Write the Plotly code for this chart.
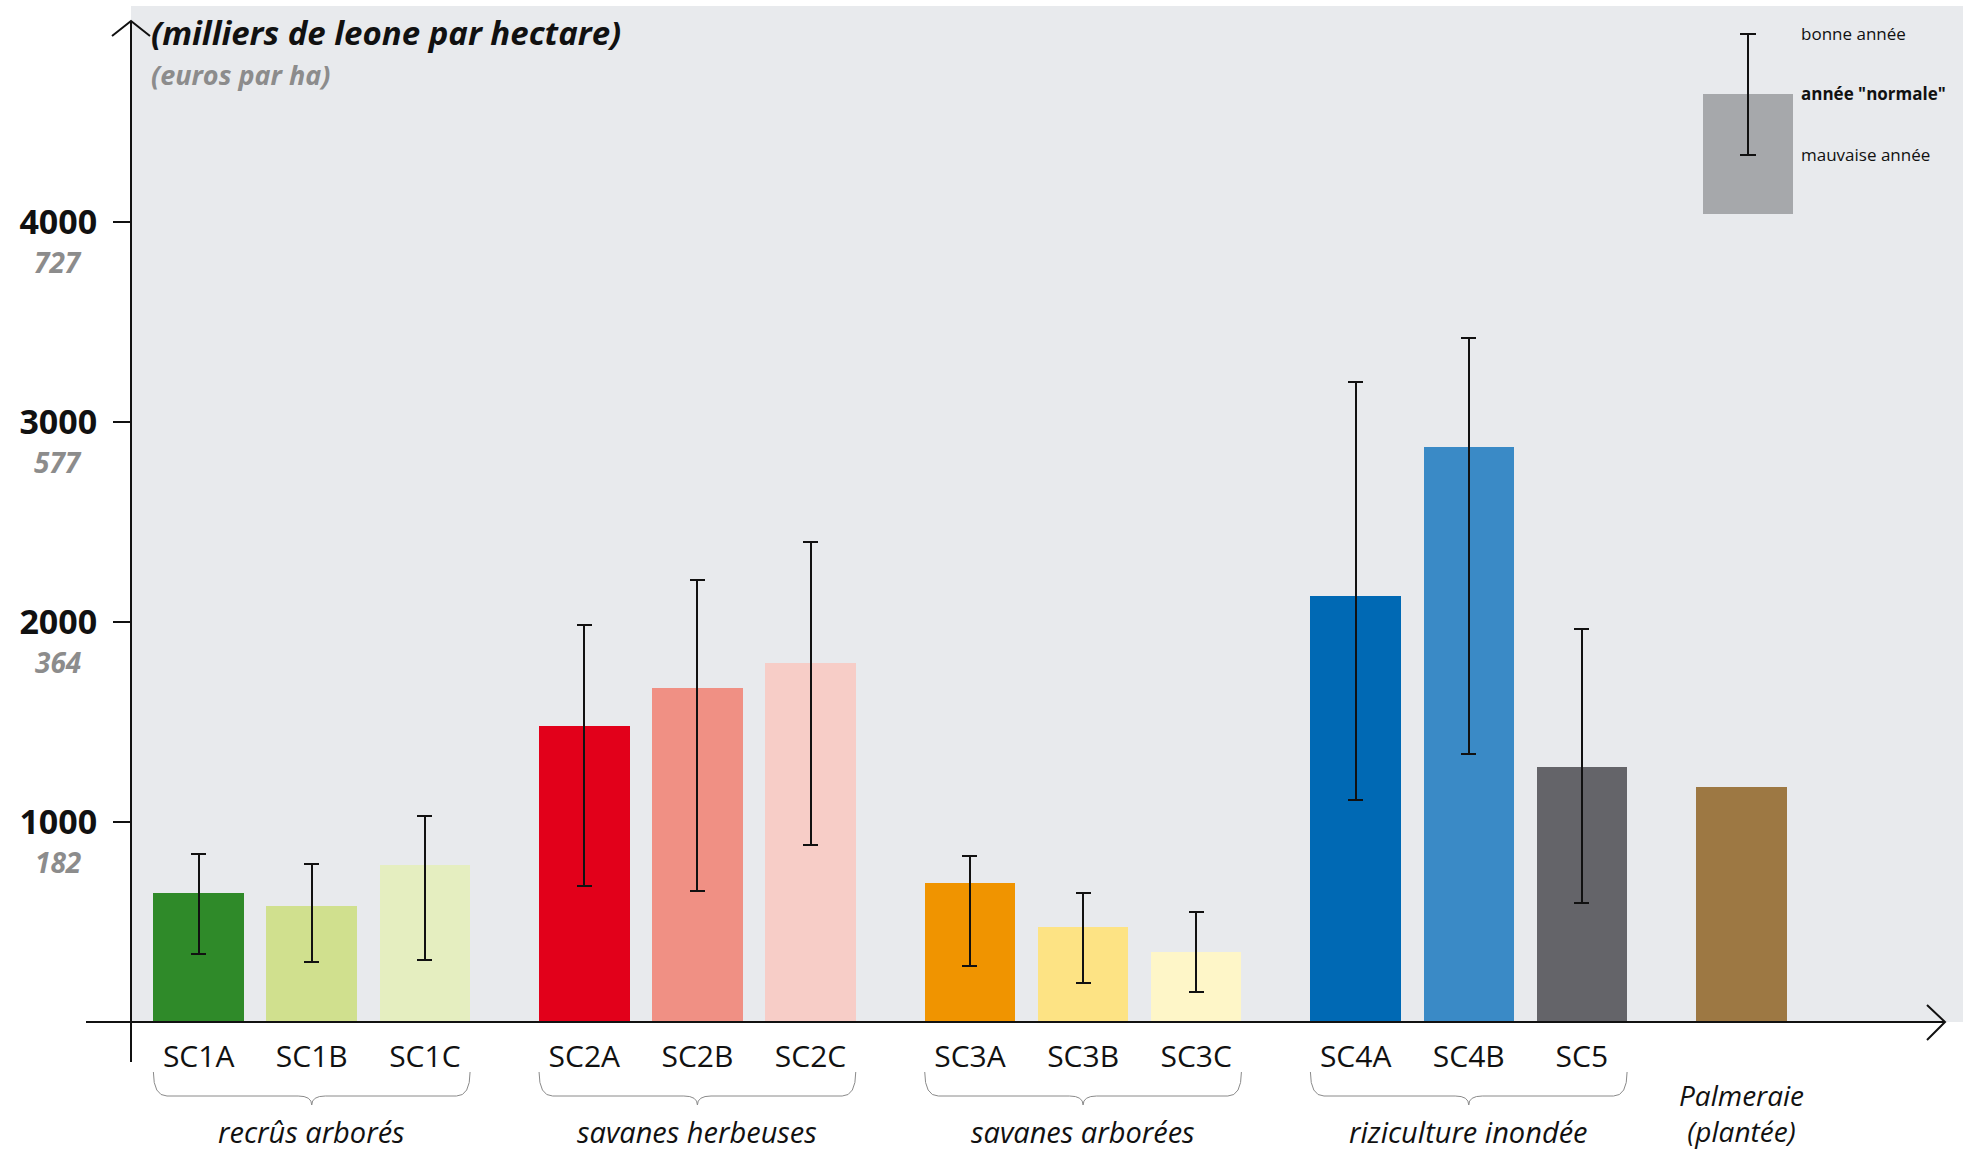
import plotly.graph_objects as go

# ---------------- data ----------------
categories = ["SC1A", "SC1B", "SC1C", "SC2A", "SC2B", "SC2C",
              "SC3A", "SC3B", "SC3C", "SC4A", "SC4B", "SC5", "Palmeraie"]
group_of = [0, 0, 0, 1, 1, 1, 2, 2, 2, 3, 3, 3, 4]
normal_year = [647, 578, 785, 1481, 1670, 1795, 697, 477, 352, 2130, 2877, 1274, 1174]
good_year = [841, 791, 1030, 1984, 2210, 2398, 829, 647, 552, 3198, 3420, 1965, None]
bad_year = [339, 301, 308, 678, 653, 885, 282, 195, 151, 1111, 1340, 596, None]
colors = ["#2f8a29", "#d0e08e", "#e5eec0", "#e2001a", "#f09084", "#f7cdc7",
          "#f09400", "#fde384", "#fef6c8", "#0069b4", "#3a8ac6", "#646469", "#9d7843"]
group_names = ["recrûs arborés", "savanes herbeuses", "savanes arborées", "riziculture inondée"]
y_ticks = [1000, 2000, 3000, 4000]
y_ticks_euro = ["182", "364", "577", "727"]
legend_texts = ["bonne année", "<b>année \"normale\"</b>", "mauvaise année"]

# ---------------- layout helpers ----------------
W, H = 1971, 1151
L, R, T, B = 131, 8, 6, 129
PW, PH = W - L - R, H - T - B
GAP = 0.41


def px(x):
    return (x - L) / PW


def py(y):
    return 1 - (y - T) / PH


# x positions: items within group 1 apart, extra gap between groups
xpos = []
item = 0
prev = None
for g in group_of:
    if prev is not None and g != prev:
        item = 0
    xpos.append(g * (3 + GAP) + item)
    item += 1
    prev = g

has_err = [gd is not None for gd in good_year]

fig = go.Figure()
# bars with good / bad year range
idx = [i for i, h in enumerate(has_err) if h]
fig.add_trace(go.Bar(
    x=[xpos[i] for i in idx], y=[normal_year[i] for i in idx], width=0.8,
    marker=dict(color=[colors[i] for i in idx], line=dict(width=0)),
    error_y=dict(type="data", symmetric=False,
                 array=[good_year[i] - normal_year[i] for i in idx],
                 arrayminus=[normal_year[i] - bad_year[i] for i in idx],
                 color="#111111", thickness=2, width=7.5),
    hoverinfo="skip",
))
# bars without range (Palmeraie)
idx2 = [i for i, h in enumerate(has_err) if not h]
fig.add_trace(go.Bar(
    x=[xpos[i] for i in idx2], y=[normal_year[i] for i in idx2], width=0.8,
    marker=dict(color=[colors[i] for i in idx2], line=dict(width=0)),
    hoverinfo="skip",
))

FONT = "Open Sans"
tick_x = [x for x, c in zip(xpos, categories) if c != "Palmeraie"]
tick_t = [c for c in categories if c != "Palmeraie"]

fig.update_layout(
    width=W, height=H,
    margin=dict(l=L, r=R, t=T, b=B, pad=0),
    paper_bgcolor="white", plot_bgcolor="#e8eaed",
    showlegend=False, barmode="overlay",
    font=dict(family=FONT, color="#111111"),
    bargap=0,
    xaxis=dict(range=[-0.598, 15.60], tickvals=tick_x, ticktext=tick_t,
               showgrid=False, zeroline=False, showline=False, ticks="",
               tickfont=dict(family=FONT, size=30, color="#111111"),
               ticklabelstandoff=14),
    yaxis=dict(range=[0, 5080], tickvals=y_ticks, ticktext=[str(v) for v in y_ticks],
               showgrid=False, zeroline=False, showline=False,
               ticks="outside", ticklen=17, tickwidth=2, tickcolor="#111111",
               tickfont=dict(family=FONT, size=34, color="#111111", weight="bold"),
               ticklabelstandoff=9),
)

shapes = []
# y axis line + arrow
shapes.append(dict(type="line", xref="paper", yref="paper", x0=px(131), x1=px(131),
                   y0=py(1062), y1=py(22), line=dict(color="#111111", width=2)))
shapes.append(dict(type="path", xref="paper", yref="paper",
                   path=f"M {px(112)},{py(36)} L {px(131)},{py(21)} L {px(150)},{py(36)}",
                   line=dict(color="#111111", width=2)))
# x axis line + arrow
shapes.append(dict(type="line", xref="paper", yref="paper", x0=px(86), x1=px(1945),
                   y0=py(1022), y1=py(1022), line=dict(color="#111111", width=2)))
shapes.append(dict(type="path", xref="paper", yref="paper",
                   path=f"M {px(1927)},{py(1005)} L {px(1945)},{py(1022)} L {px(1927)},{py(1040)}",
                   line=dict(color="#111111", width=2)))

# braces under groups
annotations = []
for gi, name in enumerate(group_names):
    xs = [x for x, g in zip(xpos, group_of) if g == gi]
    x0, x1 = min(xs) - 0.4, max(xs) + 0.4
    xc = (x0 + x1) / 2
    c = 0.12
    yt, yl, yb = py(1072), py(1096), py(1105)
    path = (f"M {x0},{yt} Q {x0},{yl} {x0 + c},{yl} L {xc - c},{yl} "
            f"Q {xc},{yl} {xc},{yb} Q {xc},{yl} {xc + c},{yl} L {x1 - c},{yl} "
            f"Q {x1},{yl} {x1},{yt}")
    shapes.append(dict(type="path", xref="x", yref="paper", path=path,
                       line=dict(color="#8a8a8a", width=1)))
    annotations.append(dict(xref="x", yref="paper", x=xc, y=py(1131), text=name,
                            showarrow=False, xanchor="center", yanchor="middle",
                            font=dict(family=FONT, size=29, color="#111111", style="italic")))

palm_x = xpos[categories.index("Palmeraie")]
annotations.append(dict(xref="x", yref="paper", x=palm_x, y=py(1113),
                        text="Palmeraie<br>(plantée)", showarrow=False,
                        xanchor="center", yanchor="middle",
                        font=dict(family=FONT, size=28, color="#111111", style="italic")))

# euro secondary labels
for v, t in zip(y_ticks, y_ticks_euro):
    annotations.append(dict(xref="paper", yref="y", x=px(58), y=v, yshift=-40, text=t,
                            showarrow=False, xanchor="center", yanchor="middle",
                            font=dict(family=FONT, size=28, color="#8c8c8c",
                                      style="italic", weight="bold")))

# titles
annotations.append(dict(xref="paper", yref="paper", x=px(149), y=py(33), showarrow=False,
                        text="(milliers de leone par hectare)", xanchor="left", yanchor="middle",
                        font=dict(family=FONT, size=33, color="#111111",
                                  style="italic", weight="bold")))
annotations.append(dict(xref="paper", yref="paper", x=px(149), y=py(75), showarrow=False,
                        text="(euros par ha)", xanchor="left", yanchor="middle",
                        font=dict(family=FONT, size=27, color="#8c8c8c",
                                  style="italic", weight="bold")))

# key (legend)
shapes.append(dict(type="rect", xref="paper", yref="paper", x0=px(1703), x1=px(1793),
                   y0=py(214), y1=py(94), fillcolor="#a6a8ab", line=dict(width=0)))
shapes.append(dict(type="line", xref="paper", yref="paper", x0=px(1748), x1=px(1748),
                   y0=py(155), y1=py(34), line=dict(color="#111111", width=2)))
for yy in (34, 155):
    shapes.append(dict(type="line", xref="paper", yref="paper", x0=px(1740), x1=px(1756),
                       y0=py(yy), y1=py(yy), line=dict(color="#111111", width=2)))
for yy, t in zip((34, 94, 155), legend_texts):
    annotations.append(dict(xref="paper", yref="paper", x=px(1799), y=py(yy), text=t,
                            showarrow=False, xanchor="left", yanchor="middle",
                            font=dict(family=FONT, size=17, color="#111111")))

fig.update_layout(shapes=shapes, annotations=annotations)
fig.write_html("out.html", config={"displayModeBar": False},
               post_script="document.body.style.margin='0px';document.body.style.overflow='hidden';")
